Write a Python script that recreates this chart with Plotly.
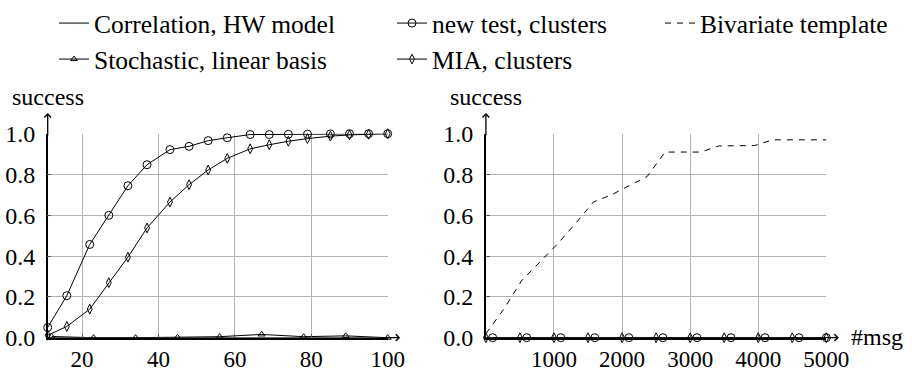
import plotly.graph_objects as go

FONT = "Liberation Serif"

# ---------------- left panel data ----------------
x_left = [11, 16, 22, 27, 32, 37, 43, 48, 53, 58, 64, 69, 74, 79, 85, 90, 95, 100]
newtest_left = [0.05, 0.206, 0.457, 0.60, 0.745, 0.848, 0.922, 0.938, 0.966, 0.98,
                0.996, 0.996, 0.997, 0.998, 0.999, 1.0, 1.0, 1.0]
mia_left = [0.012, 0.055, 0.14, 0.27, 0.395, 0.538, 0.665, 0.75, 0.822, 0.879,
            0.926, 0.946, 0.963, 0.976, 0.988, 0.994, 0.997, 1.0]
x_stoch_left = [12, 23, 34, 45, 56, 67, 78, 89, 100]
stoch_left = [0.006, 0.0, 0.0, 0.002, 0.005, 0.016, 0.005, 0.009, 0.0]
x_corr_left = [11, 100]
corr_left = [0.0, 0.0]

# ---------------- right panel data ----------------
x_biv = [0, 263, 526, 789, 1053, 1316, 1579, 1842, 2105, 2368,
         2632, 2895, 3158, 3421, 3684, 3947, 4211, 4474, 4737, 5000]
biv = [0.02, 0.14, 0.28, 0.37, 0.46, 0.56, 0.665, 0.70, 0.745, 0.79,
       0.91, 0.91, 0.91, 0.94, 0.94, 0.942, 0.97, 0.97, 0.97, 0.97]
x_newtest_right = [100, 600, 1100, 1600, 2100, 2600, 3100, 3600, 4100, 4600, 5000]
newtest_right = [0, 0, 0, 0, 0, 0, 0, 0, 0, 0, 0]
x_mia_right = [0, 500, 1000, 1500, 2000, 2500, 3000, 3500, 4000, 4500, 5000]
mia_right = [0, 0, 0, 0, 0, 0, 0, 0, 0, 0, 0]
x_corr_right = [0, 5000]
corr_right = [0.0, 0.0]

left_ticks = [20, 40, 60, 80, 100]
right_ticks = [1000, 2000, 3000, 4000, 5000]
y_ticks = [0.0, 0.2, 0.4, 0.6, 0.8, 1.0]

W, H = 912, 374
LINE = dict(color="black", width=1)


def tfont(size):
    return dict(family=FONT, size=size, color="black")


fig = go.Figure()

# left panel
fig.add_trace(go.Scatter(x=x_corr_left, y=corr_left, mode="lines", line=LINE,
                         name="Correlation, HW model", legend="legend",
                         xaxis="x", yaxis="y", cliponaxis=False))
fig.add_trace(go.Scatter(x=x_left, y=newtest_left, mode="lines+markers", line=LINE,
                         marker=dict(symbol="circle-open", size=8, color="black",
                                     line=dict(width=1, color="black")),
                         name="new test, clusters", legend="legend2",
                         xaxis="x", yaxis="y", cliponaxis=False))
fig.add_trace(go.Scatter(x=x_stoch_left, y=stoch_left, mode="lines+markers", line=LINE,
                         marker=dict(symbol="triangle-up-open", size=6, color="black",
                                     line=dict(width=1, color="black")),
                         name="Stochastic, linear basis", legend="legend4",
                         xaxis="x", yaxis="y", cliponaxis=False))
fig.add_trace(go.Scatter(x=x_left, y=mia_left, mode="lines+markers", line=LINE,
                         marker=dict(symbol="diamond-tall-open", size=7, color="black",
                                     line=dict(width=1, color="black")),
                         name="MIA, clusters", legend="legend5",
                         xaxis="x", yaxis="y", cliponaxis=False))

# right panel
fig.add_trace(go.Scatter(x=x_biv, y=biv, mode="lines",
                         line=dict(color="black", width=1, dash="6px,6px"),
                         name="Bivariate template", legend="legend3",
                         xaxis="x2", yaxis="y2", cliponaxis=False))
fig.add_trace(go.Scatter(x=x_corr_right, y=corr_right, mode="lines", line=LINE,
                         showlegend=False, xaxis="x2", yaxis="y2", cliponaxis=False))
fig.add_trace(go.Scatter(x=x_newtest_right, y=newtest_right, mode="lines+markers", line=LINE,
                         marker=dict(symbol="circle-open", size=8, color="black",
                                     line=dict(width=1, color="black")),
                         showlegend=False, xaxis="x2", yaxis="y2", cliponaxis=False))
fig.add_trace(go.Scatter(x=x_mia_right, y=mia_right, mode="lines+markers", line=LINE,
                         marker=dict(symbol="diamond-tall-open", size=7, color="black",
                                     line=dict(width=1, color="black")),
                         showlegend=False, xaxis="x2", yaxis="y2", cliponaxis=False))

px = lambda p: p / W
py = lambda p: 1 - p / H

ydom = [py(337.7), py(133.7)]
GRID = "#b3b3b3"

common_x = dict(showgrid=True, gridcolor=GRID, gridwidth=1.3, showline=True,
                linecolor="black", linewidth=1.5, zeroline=False, ticks="inside",
                ticklen=4, tickcolor="#555", tickwidth=1, automargin=False,
                tickfont=tfont(23), ticklabelstandoff=0)
common_y = dict(showgrid=True, gridcolor=GRID, gridwidth=1.3, showline=True,
                linecolor="black", linewidth=1.5, zeroline=False, ticks="inside",
                ticklen=4, tickcolor="#555", tickwidth=1, range=[0, 1],
                tickvals=y_ticks, tickformat=".1f", automargin=False,
                tickfont=tfont(24), ticklabelstandoff=6, domain=ydom)

fig.update_layout(
    width=W, height=H, autosize=False,
    margin=dict(l=0, r=0, t=0, b=0, autoexpand=False),
    paper_bgcolor="white", plot_bgcolor="white",
    xaxis=dict(common_x, domain=[px(47.7), px(387.7)], range=[11, 100],
               tickvals=left_ticks, anchor="y"),
    yaxis=dict(common_y, anchor="x"),
    xaxis2=dict(common_x, domain=[px(485.9), px(826.3)], range=[0, 5000],
                tickvals=right_ticks, anchor="y2"),
    yaxis2=dict(common_y, anchor="x2"),
)

LEG = dict(xanchor="left", yanchor="top", bgcolor="rgba(0,0,0,0)",
           xref="container", yref="container",
           borderwidth=0, itemwidth=30, font=tfont(25.5))
fig.update_layout(
    legend=dict(LEG, x=px(54), y=py(-1.5)),
    legend2=dict(LEG, x=px(392), y=py(-1.5)),
    legend3=dict(LEG, x=px(660), y=py(-1.5)),
    legend4=dict(LEG, x=px(54), y=py(36)),
    legend5=dict(LEG, x=px(392), y=py(36)),
)

anns = []
for xa, ya in (("x", "y"), ("x2", "y2")):
    anns.append(dict(text="success", xref=f"{xa} domain", yref=f"{ya} domain",
                     x=0, y=(337.7 - 97) / 204, xanchor="center", yanchor="middle",
                     showarrow=False, font=tfont(24)))
    # axis arrows
    anns.append(dict(text="", xref=f"{xa} domain", yref=f"{ya} domain",
                     x=0, y=(337.7 - 113) / 204, ax=0, ay=24, showarrow=True,
                     arrowhead=4, arrowsize=1, arrowwidth=1.3, arrowcolor="black"))
    anns.append(dict(text="", xref=f"{xa} domain", yref=f"{ya} domain",
                     x=(12.5 + 340) / 340, y=0, ax=-20, ay=0, showarrow=True,
                     arrowhead=4, arrowsize=1, arrowwidth=1.3, arrowcolor="black"))
anns.append(dict(text="#msg", xref="paper", yref="paper", x=px(849), y=py(337),
                 xanchor="left", yanchor="middle", showarrow=False, font=tfont(24)))
fig.update_layout(annotations=anns)

fig.write_html("out.html")
